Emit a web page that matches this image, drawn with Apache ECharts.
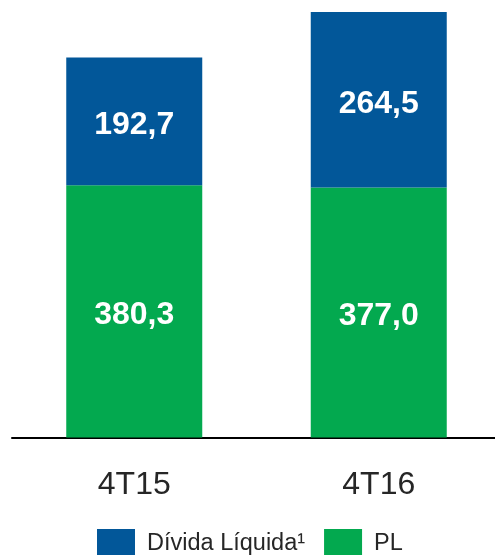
<!DOCTYPE html>
<html><head><meta charset="utf-8">
<script src="https://cdn.jsdelivr.net/npm/echarts@6/dist/echarts.min.js"></script>
<style>html,body{margin:0;padding:0;background:#fff}#c{width:495px;height:555px}</style>
</head><body><div id="c"></div>
<script>
const categories = ['4T15', '4T16'];
const plValues = [380.3, 377.0];
const dividaValues = [192.7, 264.5];
const seriesNames = ['Dívida Líquida¹', 'PL'];
const fmt = v => v.toFixed(1).replace('.', ',');
const chart = echarts.init(document.getElementById('c'));
const lbl = {show: true, position: 'inside', offset: [0, 4], color: '#fff', fontFamily: 'Liberation Sans', fontWeight: 'bold', fontSize: 32, formatter: p => fmt(p.value)};
chart.setOption({
  animation: false,
  grid: {left: 12, top: 12, width: 489, bottom: 117.5, outerBoundsMode: 'none', containLabel: false},
  legend: {
    data: seriesNames, bottom: -9, left: 92, itemWidth: 38, itemHeight: 30, itemGap: 19,
    icon: 'rect',
    textStyle: {fontFamily: 'Liberation Sans', fontSize: 23.5, color: '#262626', padding: [0, 0, 0, 7]}
  },
  xAxis: {
    type: 'category', data: categories,
    axisLine: {lineStyle: {color: '#000', width: 2}},
    axisTick: {show: false},
    axisLabel: {fontFamily: 'Liberation Sans', fontSize: 32, color: '#262626', margin: 32}
  },
  yAxis: {type: 'value', min: 0, max: 641.5, show: false, splitLine: {show: false}},
  series: [
    {name: 'PL', type: 'bar', stack: 't', data: plValues, barWidth: 136, itemStyle: {color: '#03A94F'}, label: lbl},
    {name: 'Dívida Líquida¹', type: 'bar', stack: 't', data: dividaValues, barWidth: 136, itemStyle: {color: '#025799'}, label: lbl}
  ]
});
</script></body></html>
